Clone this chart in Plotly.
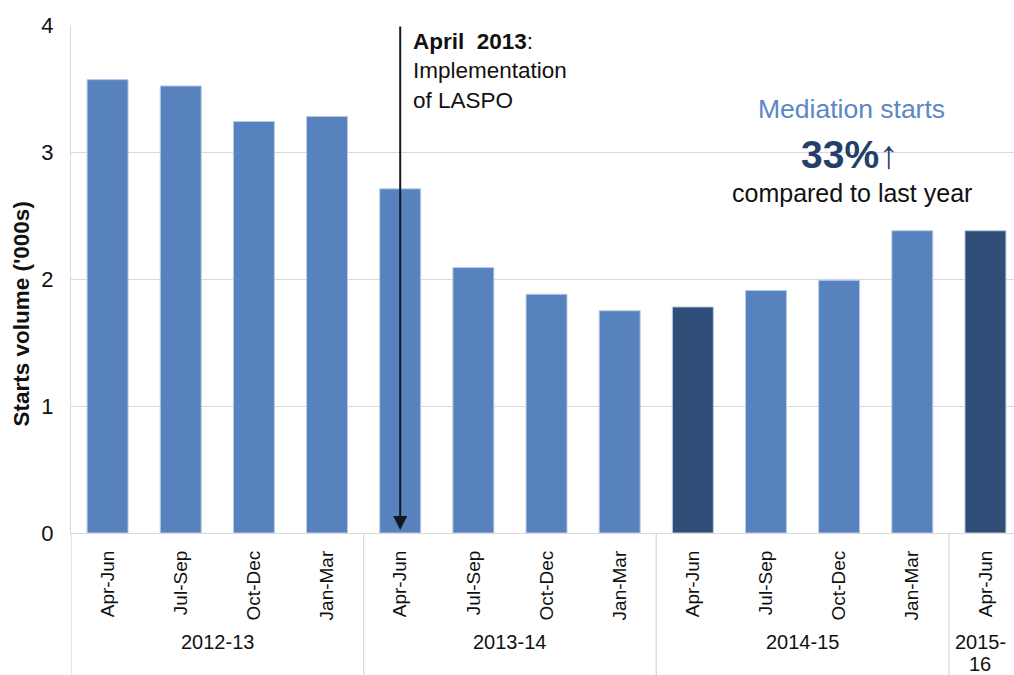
import plotly.graph_objects as go

# ---- data ----
quarters = ["Apr-Jun", "Jul-Sep", "Oct-Dec", "Jan-Mar",
            "Apr-Jun", "Jul-Sep", "Oct-Dec", "Jan-Mar",
            "Apr-Jun", "Jul-Sep", "Oct-Dec", "Jan-Mar",
            "Apr-Jun"]
years = ["2012-13"] * 4 + ["2013-14"] * 4 + ["2014-15"] * 4 + ["2015-16"]
starts = [3.57, 3.52, 3.24, 3.28, 2.71, 2.09, 1.88, 1.75, 1.78, 1.91, 1.99, 2.38, 2.38]
highlight = [0, 0, 0, 0, 0, 0, 0, 0, 1, 0, 0, 0, 1]
group_labels = ["2012-13", "2013-14", "2014-15", "2015-16"]
group_lines = {"2015-16": ["2015-", "16"]}
y_ticks = [0, 1, 2, 3, 4]

LIGHT = "#5782BD"
DARK = "#2F4D77"
GRID = "#d9d9d9"
FONT = "Arial, 'Liberation Sans', sans-serif"

x_idx = list(range(len(starts)))
colors = [DARK if h else LIGHT for h in highlight]

fig = go.Figure()
fig.add_trace(go.Bar(
    x=x_idx, y=starts,
    marker=dict(color=colors, line=dict(color="#b8cce4", width=1)),
    showlegend=False,
))

# group dividers and labels
shapes = []
annotations = []
for g in group_labels:
    idxs = [i for i, y in enumerate(years) if y == g]
    start = idxs[0] - 0.5
    shapes.append(dict(type="line", xref="x", yref="paper", x0=start, x1=start,
                       y0=0, y1=-0.28, line=dict(color=GRID, width=1.3), layer="below"))
    cx = (idxs[0] + idxs[-1]) / 2
    xs = -5 if len(idxs) == 1 else 0
    for k, line in enumerate(group_lines.get(g, [g])):
        annotations.append(dict(text=line, xref="x", yref="paper",
                                x=cx, xshift=xs, y=0, yshift=-109 - 22 * k,
                                yanchor="middle", showarrow=False,
                                font=dict(size=20, color="#111", family=FONT)))

# LASPO arrow
laspo_i = 4
annotations.append(dict(x=laspo_i, y=0, ax=laspo_i, ay=4, xref="x", yref="y",
                        axref="x", ayref="y", text="", showarrow=True,
                        arrowhead=2, arrowsize=1.4, arrowwidth=2, arrowcolor="#141820",
                        standoff=3))
annotations.append(dict(text="<b>April  2013</b>:<br>Implementation<br>of LASPO",
                        x=laspo_i, xshift=11, y=4, yshift=-2, xref="x", yref="y",
                        xanchor="left", yanchor="top", align="left", showarrow=False,
                        font=dict(size=22.5, color="#111", family=FONT)))

# Mediation callout
annotations.append(dict(text="Mediation starts", x=10.17, y=3.34, xref="x", yref="y",
                        showarrow=False, font=dict(size=26.5, color="#5B87C5", family=FONT)))
annotations.append(dict(text="<b>33%</b>↑", x=10.15, y=2.98, xref="x", yref="y",
                        showarrow=False, font=dict(size=39, color="#233F6A", family=FONT)))
annotations.append(dict(text="compared to last year", x=10.17, y=2.68, xref="x", yref="y",
                        showarrow=False, font=dict(size=25, color="#111", family=FONT)))

# y-axis title
annotations.append(dict(text="<b>Starts volume ('000s)</b>", xref="paper", yref="paper",
                        x=0, xshift=-49, xanchor="center", y=0.43, yanchor="middle",
                        textangle=-90, showarrow=False,
                        font=dict(size=22.5, color="#111", family=FONT)))

fig.update_layout(
    width=1014, height=675,
    margin=dict(l=71, r=0, t=25, b=142, autoexpand=False),
    plot_bgcolor="white", paper_bgcolor="white",
    bargap=0.44,
    shapes=shapes,
    annotations=annotations,
    font=dict(family=FONT, color="#111"),
    xaxis=dict(range=[-0.5, 12.39], tickmode="array", tickvals=x_idx, ticktext=quarters,
               tickangle=-90, showline=True, linecolor=GRID, linewidth=1.3,
               showgrid=False, zeroline=False, ticks="outside", ticklen=9,
               tickcolor="rgba(0,0,0,0)", tickfont=dict(size=19, color="#111"),
               automargin=False),
    yaxis=dict(range=[0, 4], tickvals=y_ticks, showgrid=True, gridcolor=GRID,
               gridwidth=1.3, showline=True, linecolor=GRID, linewidth=1.3,
               zeroline=False, ticks="outside", ticklen=12,
               tickcolor="rgba(0,0,0,0)", tickfont=dict(size=22, color="#111"),
               automargin=False),
)

fig.write_html("out.html", config={"displayModeBar": False})

# remove the browser's default page margin so the figure sits at the window origin
with open("out.html", "r", encoding="utf-8") as f:
    html = f.read()
html = html.replace("<body>", '<body style="margin:0;padding:0;overflow:hidden">', 1)
with open("out.html", "w", encoding="utf-8") as f:
    f.write(html)
